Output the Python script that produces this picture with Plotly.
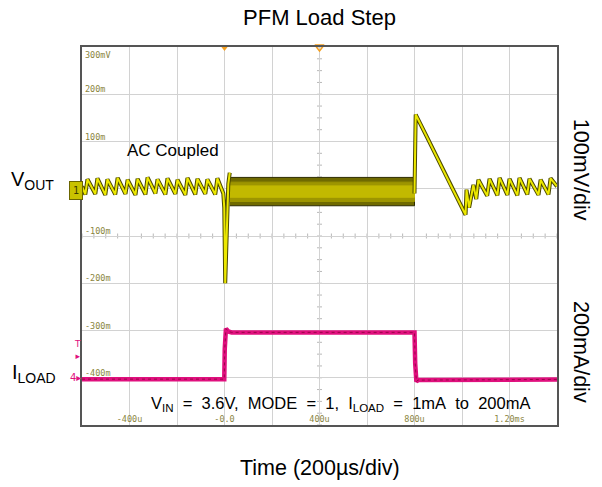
import plotly.graph_objects as go

# ---------------- data ----------------
# Time axis: microseconds, 200 us/div, trigger at 0
time_tickvals = [-400, 0, 400, 800, 1200]
time_ticktext = ["-400u", "-0.0", "400u", "800u", "1.20ms"]
time_minor_vals = [-200, 200, 600, 1000]

# CH1 (VOUT, AC coupled), mV, 100 mV/div
volt_tickvals = [300, 200, 100, -100, -200, -300, -400]
volt_ticktext = ["300mV", "200m", "100m", "-100m", "-200m", "-300m", "-400m"]

vout_pre_t = [-600, -586, -577, -544, -535, -502, -493, -460, -450, -417, -408,
              -375, -366, -333, -324, -291, -282, -249, -240, -207, -198, -165,
              -156, -123, -114, -81, -72, -39, -30, -5, -1, 3, 6, 10, 16, 22]
vout_pre_mv = [5, -12, 20, -11, 22, -13, 20, -12, 23, -11, 19,
               -13, 21, -12, 24, -10, 20, -12, 22, -11, 19, -13,
               23, -12, 21, -11, 20, -12, 22, -10, -40, -200, -150, -60, 10, 34]

# heavy-load region: fast ripple drawn as a band
band_t = [22, 800]
band_hi_mv = [24, 24]
band_lo_mv = [-36, -36]
band_mid_hi_mv = [14, 14]
band_mid_lo_mv = [-27, -27]
band_core_hi_mv = [6, 6]
band_core_lo_mv = [-18, -18]

vout_post_t = [800, 802, 805, 850, 900, 950, 1015, 1019, 1030, 1048, 1060, 1069,
               1106, 1116, 1149, 1158, 1191, 1200, 1233, 1242, 1275, 1284, 1322,
               1331, 1364, 1373, 1400]
vout_post_mv = [-10, 150, 157, 112, 60, 10, -55, -2, -40, 8, -22, 19,
                -15, 21, -14, 23, -13, 21, -14, 23, -12, 21, -13,
                19, -12, 22, 5]

# CH4 (ILOAD), mA, 200 mA/div
iload_t = [-600, -1, 1, 3, 6, 10, 16, 30, 797, 800, 803, 808, 815, 1400]
iload_ma = [-6, -6, 120, 200, 208, 203, 196, 192, 192, 192, 60, -16, -10, -7]

# trigger level marker (mA)
trig_level_ma = 118

# ---------------- figure ----------------
X_RANGE = [-600, 1400]
Y_RANGE = [-500, 300]      # mV
Y2_RANGE = [-200, 1400]    # mA

GRID = "#d2d2d2"
OLIVE_TXT = "#8a8540"
YEL = "#ece800"
YEL_DARK = "#4a4700"
MAG = "#e0107e"

fig = go.Figure()

def band(hi, lo, color, line_color=None):
    xs = list(band_t) + list(band_t[::-1])
    ys = list(hi) + list(lo[::-1])
    fig.add_trace(go.Scatter(x=xs, y=ys, fill="toself", fillcolor=color, mode="lines",
                             line=dict(color=line_color or color, width=1),
                             hoverinfo="skip", showlegend=False))

band(band_hi_mv, band_lo_mv, "#6f6a00", "#2e2c00")
band(band_mid_hi_mv, band_mid_lo_mv, "#9d9500")
band(band_core_hi_mv, band_core_lo_mv, "#c2b900")

# VOUT line (dark edge + yellow core)
vt = vout_pre_t + [None] + vout_post_t
vv = vout_pre_mv + [None] + vout_post_mv
fig.add_trace(go.Scatter(x=vt, y=vv, mode="lines", line=dict(color=YEL_DARK, width=4),
                         hoverinfo="skip", showlegend=False))
fig.add_trace(go.Scatter(x=vt, y=vv, mode="lines", line=dict(color=YEL, width=2),
                         hoverinfo="skip", showlegend=False))

# ILOAD
fig.add_trace(go.Scatter(x=iload_t, y=iload_ma, yaxis="y2", mode="lines",
                         line=dict(color=MAG, width=4.5), hoverinfo="skip", showlegend=False))
fig.add_trace(go.Scatter(x=iload_t, y=iload_ma, yaxis="y2", mode="lines",
                         line=dict(color="#6a0025", width=1, dash="dot"), opacity=0.6,
                         hoverinfo="skip", showlegend=False))

# trigger / position markers on top border
fig.add_trace(go.Scatter(x=[0], y=[Y_RANGE[1]], mode="markers", cliponaxis=False,
                         marker=dict(symbol="triangle-down", size=8, color="#f5a020"),
                         hoverinfo="skip", showlegend=False))
fig.add_trace(go.Scatter(x=[400], y=[Y_RANGE[1]], mode="markers", cliponaxis=False,
                         marker=dict(symbol="triangle-down-open", size=8, color="#f5a020",
                                     line=dict(width=1.5)),
                         hoverinfo="skip", showlegend=False))

# graticule sub-ticks on the centre lines
shapes = []
xc = (X_RANGE[0] + X_RANGE[1]) / 2
yc = (Y_RANGE[0] + Y_RANGE[1]) / 2
xdiv = 200
ydiv = 100
px_x = (X_RANGE[1] - X_RANGE[0]) / 475.0
px_y = (Y_RANGE[1] - Y_RANGE[0]) / 378.0
t = X_RANGE[0]
while t <= X_RANGE[1]:
    shapes.append(dict(type="line", xref="x", yref="y", x0=t, x1=t,
                       y0=yc - 2.5 * px_y, y1=yc + 2.5 * px_y,
                       line=dict(color="#b8b8b8", width=1), layer="below"))
    t += xdiv / 4
v = Y_RANGE[0]
while v <= Y_RANGE[1]:
    shapes.append(dict(type="line", xref="x", yref="y", y0=v, y1=v,
                       x0=xc - 2.5 * px_x, x1=xc + 2.5 * px_x,
                       line=dict(color="#b8b8b8", width=1), layer="below"))
    v += ydiv / 4

annotations = []
mono = dict(family="DejaVu Sans Mono", size=8.5, color=OLIVE_TXT)
for val, txt in zip(volt_tickvals, volt_ticktext):
    annotations.append(dict(x=0, xref="paper", y=val, yref="y", text=txt, showarrow=False,
                            xanchor="left", yanchor="top" if val == Y_RANGE[1] else "bottom",
                            xshift=1, yshift=-1 if val == Y_RANGE[1] else -2, font=mono))

sans = "Liberation Sans, Arial, sans-serif"
annotations += [
    dict(x=0, xref="paper", y=0, yref="y", text="V<sub>OUT</sub>", showarrow=False,
         xanchor="right", yanchor="middle", xshift=-26, yshift=8,
         font=dict(family=sans, size=20, color="black")),
    dict(x=0, xref="paper", y=0, yref="y2", text="I<sub>LOAD</sub>", showarrow=False,
         xanchor="right", yanchor="middle", xshift=-24, yshift=4,
         font=dict(family=sans, size=20, color="black")),
    dict(x=-215, xref="x", y=80, yref="y", text="AC Coupled", showarrow=False,
         xanchor="center", yanchor="middle", font=dict(family=sans, size=17, color="black")),
    dict(x=0.545, xref="paper", y=0.056, yref="paper",
         text="V<sub>IN</sub>\u00a0 =\u00a0 3.6V,\u00a0 MODE\u00a0 =\u00a0 1,\u00a0 I<sub>LOAD</sub>\u00a0 =\u00a0 1mA\u00a0 to\u00a0 200mA",
         showarrow=False, xanchor="center", yanchor="middle",
         font=dict(family=sans, size=16.5, color="black")),
    dict(x=0.5, xref="paper", y=-0.114, yref="paper", text="Time (200µs/div)", showarrow=False,
         xanchor="center", yanchor="middle", font=dict(family=sans, size=21.5, color="black")),
    dict(x=1.0505, xref="paper", y=0.675, yref="paper", text="100mV/div", showarrow=False,
         textangle=90, xanchor="center", yanchor="middle",
         font=dict(family=sans, size=21.5, color="black")),
    dict(x=1.0505, xref="paper", y=0.193, yref="paper", text="200mA/div", showarrow=False,
         textangle=90, xanchor="center", yanchor="middle",
         font=dict(family=sans, size=21.5, color="black")),
    # channel markers
    dict(x=0, xref="paper", y=0, yref="y", text="1", showarrow=False, xanchor="right",
         yanchor="middle", xshift=1, yshift=-2, bgcolor="#c9c200", bordercolor="#6b6600",
         borderpad=3, font=dict(family="DejaVu Sans Mono", size=10, color="#3c3a00")),
    dict(x=0, xref="paper", y=0, yref="y2", text="4\u25b8", showarrow=False, xanchor="right",
         yanchor="middle", xshift=1, font=dict(family="DejaVu Sans", size=10, color=MAG)),
    dict(x=0, xref="paper", y=trig_level_ma, yref="y2", text="T<br>\u25b8", showarrow=False,
         xanchor="right", yanchor="middle", xshift=1,
         font=dict(family="DejaVu Sans", size=9, color=MAG)),
]

fig.update_layout(
    width=602, height=487,
    margin=dict(l=82, r=45, t=47, b=62),
    paper_bgcolor="white", plot_bgcolor="white",
    title=dict(text="PFM Load Step", x=0.5, xref="paper", xanchor="center",
               y=1 - 17 / 487, yref="container", yanchor="middle",
               font=dict(family=sans, size=22, color="black")),
    xaxis=dict(range=X_RANGE, tickvals=time_tickvals, ticktext=time_ticktext,
               ticklabelposition="inside", ticks="", tickfont=mono,
               showgrid=True, gridcolor=GRID, gridwidth=1, zeroline=False,
               minor=dict(tickvals=time_minor_vals, showgrid=True, gridcolor=GRID,
                          gridwidth=1, ticks=""),
               showline=True, linecolor="#555555", linewidth=1.5, mirror=True),
    yaxis=dict(range=Y_RANGE, tickvals=[200, 100, 0, -100, -200, -300, -400],
               showticklabels=False, ticks="", showgrid=True, gridcolor=GRID, gridwidth=1,
               zeroline=False, showline=True, linecolor="#555555", linewidth=1.5, mirror=True),
    yaxis2=dict(range=Y2_RANGE, overlaying="y", visible=False),
    shapes=shapes,
    annotations=annotations,
    showlegend=False,
)

fig.write_html("out.html")
